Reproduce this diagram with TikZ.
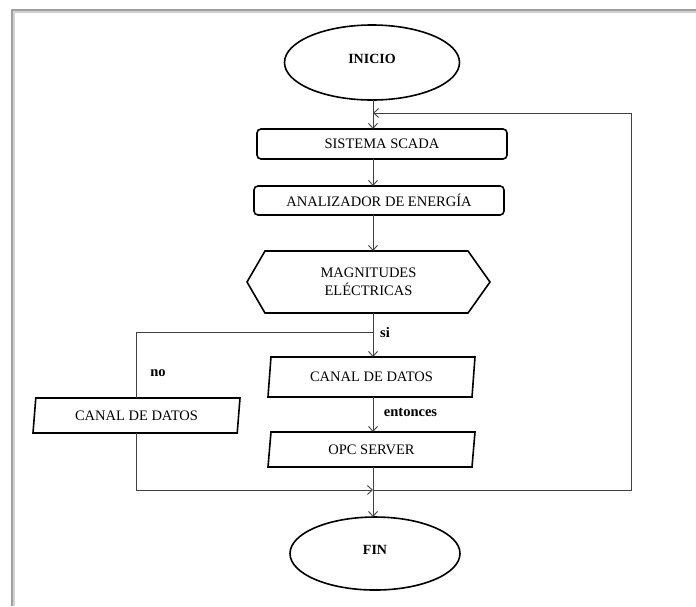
\documentclass[tikz,border=0pt]{standalone}
\usepackage{fontspec}
\setmainfont{Liberation Serif}
\usetikzlibrary{shapes.geometric, arrows.meta, positioning}
\tikzstyle{terminal}=[ellipse, draw=black, line width=1.6pt, minimum width=175pt, minimum height=75pt, inner sep=0pt, outer sep=0pt, font=\fontsize{14}{16}\selectfont\bfseries]
\tikzstyle{process}=[rectangle, rounded corners=4pt, draw=black, line width=1.6pt, minimum width=250pt, minimum height=30pt, inner sep=0pt, outer sep=0pt, font=\fontsize{14.5}{18}\selectfont]
\tikzstyle{data}=[trapezium, trapezium left angle=73, trapezium right angle=107, trapezium stretches body, draw=black, line width=1.6pt, minimum width=207pt, minimum height=40pt, inner sep=0pt, outer sep=0pt, font=\fontsize{14.5}{18}\selectfont]
\tikzstyle{arrow}=[-{Straight Barb[length=5pt, width=9pt]}, line width=0.9pt, draw=black!75]
\tikzstyle{line}=[line width=0.9pt, draw=black!75]
\tikzstyle{tag}=[inner sep=0pt, font=\fontsize{14.5}{16}\selectfont\bfseries]

\begin{document}
\begin{tikzpicture}[x=1pt, y=-1pt]
\useasboundingbox (0,0) rectangle (696,606);

% Page frame
\draw[gray!35, line width=1.5pt] (14,606) -- (14,12) -- (696,12);
\draw[gray!75, line width=1.2pt] (12,606) -- (12,10) -- (696,10);

% Start
\node[terminal] (inicio) at (372,62.5) {\raisebox{7pt}{INICIO}};

% Main chain
\node[process, below=29pt of inicio, xshift=10pt] (scada) {SISTEMA SCADA};
\node[process, below=27pt of scada, xshift=-3pt, minimum height=29pt] (analizador) {ANALIZADOR DE ENERGÍA};
\node[process, draw=none, rounded corners=0pt, minimum width=243pt, minimum height=62pt, align=center, below=36pt of analizador, xshift=-10.5pt] (magnitudes) {MAGNITUDES\\ELÉCTRICAS};
\draw[line width=1.6pt] (magnitudes.west) -- ([xshift=18pt]magnitudes.north west) -- ([xshift=-22pt]magnitudes.north east) -- (magnitudes.east) -- ([xshift=-22pt]magnitudes.south east) -- ([xshift=18pt]magnitudes.south west) -- cycle;

% Branches
\node[data, below=44pt of magnitudes, xshift=3pt] (canalsi) {CANAL DE DATOS};
\node[data, below=35pt of canalsi, minimum height=35pt] (opc) {OPC SERVER};
\node[data, minimum height=35pt, trapezium left angle=74, trapezium right angle=106] (canalno) at (136.5,415.5) {CANAL DE DATOS};

% End
\node[terminal, below=50pt of opc, xshift=3.5pt, minimum width=170pt, minimum height=73pt] (fin) {\raisebox{6.5pt}{FIN}};

% Junctions
\coordinate (split) at (373,332);
\coordinate (merge) at (373,490);
\coordinate (loopin) at (373,113);

% Flow arrows
\draw[arrow] (split |- inicio.south) -- (split |- scada.north);
\draw[arrow] (split |- scada.south) -- (split |- analizador.north);
\draw[arrow] (split |- analizador.south) -- (split |- magnitudes.north);
\draw[arrow] (split |- magnitudes.south) -- (split |- canalsi.north);
\draw[line] (split) -| (canalno.north);
\draw[arrow] (split |- canalsi.south) -- (split |- opc.north);
\draw[arrow] (canalno.south) |- (merge);
\draw[arrow] (split |- opc.south) -- (split |- fin.north);
\draw[arrow] (merge) -- ++(258,0) |- (loopin);

% Labels
\node[tag] (si) at (385,333) {si};
\node[tag] (no) at (158,373) {no};
\node[tag] (entonces) at (410.5,412) {entonces};

\end{tikzpicture}
\end{document}
